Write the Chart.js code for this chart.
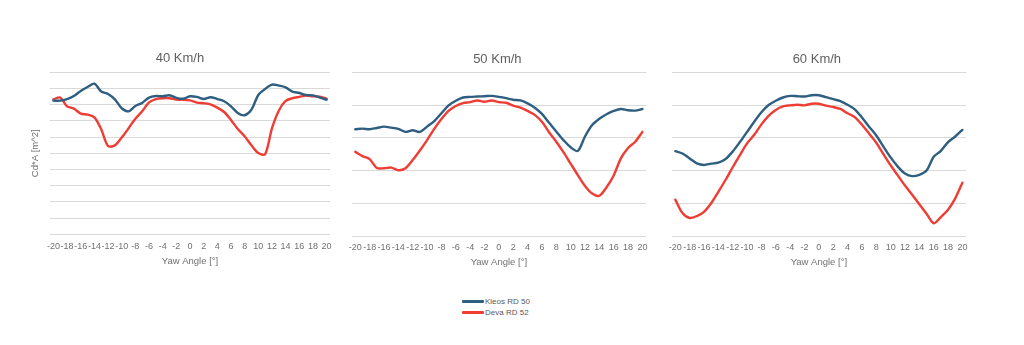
<!DOCTYPE html>
<html>
<head>
<meta charset="utf-8">
<script src="https://cdn.jsdelivr.net/npm/chart.js@4/dist/chart.umd.min.js"></script>
<style>
  html, body { margin: 0; padding: 0; background: #ffffff; }
  body { width: 1024px; height: 345px; position: relative; overflow: hidden; }
  .box { position: absolute; }
  #legend { position: absolute; left: 462px; top: 296px; font-family: "Liberation Sans", Arial, sans-serif; font-size: 8px; color: #595959; }
  #legend .item { height: 11px; display: flex; align-items: center; }
  #legend .sw { width: 22px; height: 3px; margin-right: 1px; border-radius: 1px; }
</style>
</head>
<body>
<div class="box" id="b1" style="left:0px;top:40px;width:340px;height:240px;"><canvas id="c1"></canvas></div>
<div class="box" id="b2" style="left:340px;top:40px;width:316px;height:240px;"><canvas id="c2"></canvas></div>
<div class="box" id="b3" style="left:660px;top:40px;width:316px;height:240px;"><canvas id="c3"></canvas></div>
<div id="legend"></div>
<script>
// ---- data ----
const yawAngles = [-20,-19,-18,-17,-16,-15,-14,-13,-12,-11,-10,-9,-8,-7,-6,-5,-4,-3,-2,-1,0,1,2,3,4,5,6,7,8,9,10,11,12,13,14,15,16,17,18,19,20];
const seriesNames = ["Kleos RD 50", "Deva RD 52"];
const panelTitles = ["40 Km/h", "50 Km/h", "60 Km/h"];
const xAxisTitle = "Yaw Angle [°]";
const yAxisTitle = "Cd*A [m^2]";

const kleos40 = [8.25,8.25,8.35,8.54,8.85,9.09,9.30,8.81,8.66,8.33,7.78,7.59,7.92,8.11,8.44,8.54,8.52,8.58,8.42,8.37,8.52,8.48,8.35,8.46,8.35,8.21,7.90,7.49,7.35,7.70,8.60,8.97,9.24,9.18,9.07,8.81,8.72,8.60,8.58,8.44,8.31];
const deva40  = [8.33,8.44,7.90,7.76,7.45,7.39,7.22,6.48,5.45,5.49,5.97,6.54,7.14,7.59,8.15,8.35,8.40,8.40,8.31,8.31,8.27,8.13,8.09,8.02,7.82,7.55,7.06,6.50,6.05,5.49,5.02,4.94,6.54,7.63,8.23,8.40,8.48,8.56,8.52,8.50,8.37];

const kleos50 = [3.26,3.28,3.26,3.30,3.34,3.31,3.27,3.18,3.23,3.18,3.34,3.51,3.75,3.99,4.13,4.23,4.25,4.26,4.27,4.28,4.25,4.21,4.16,4.14,4.05,3.92,3.73,3.46,3.19,2.93,2.71,2.60,3.04,3.39,3.58,3.72,3.82,3.88,3.84,3.83,3.88];
const deva50  = [2.57,2.44,2.35,2.08,2.07,2.09,2.01,2.07,2.32,2.61,2.93,3.27,3.57,3.82,3.97,4.06,4.09,4.14,4.10,4.14,4.09,4.07,3.98,3.92,3.82,3.70,3.49,3.17,2.88,2.56,2.21,1.86,1.53,1.30,1.23,1.49,1.85,2.37,2.69,2.88,3.18];

const kleos60 = [2.59,2.52,2.37,2.22,2.17,2.21,2.24,2.35,2.58,2.87,3.18,3.49,3.78,4.00,4.13,4.23,4.28,4.27,4.26,4.30,4.30,4.24,4.18,4.12,4.01,3.87,3.62,3.34,3.07,2.73,2.40,2.12,1.91,1.83,1.87,2.00,2.42,2.60,2.87,3.04,3.24];
const deva60  = [1.11,0.70,0.55,0.61,0.74,1.00,1.35,1.71,2.10,2.47,2.83,3.09,3.41,3.67,3.85,3.96,3.99,4.01,3.99,4.04,4.04,3.98,3.94,3.88,3.75,3.63,3.40,3.13,2.85,2.50,2.16,1.85,1.54,1.26,0.97,0.68,0.39,0.58,0.80,1.15,1.63];

const yMax40 = 10, yMax50 = 5, yMax60 = 5;

// ---- styles ----
const BLUE = "#2E5E80";
const RED = "#EE3D34";
const FONT = "'Liberation Sans', Arial, sans-serif";
const TXT = "#707070";
const GRID = "#D9D9D9";

function makeChart(id, title, kleos, deva, yMax, cfg) {
  return new Chart(document.getElementById(id), {
    type: "line",
    data: {
      labels: yawAngles,
      datasets: [
        { label: seriesNames[0], data: kleos, borderColor: BLUE, backgroundColor: BLUE },
        { label: seriesNames[1], data: deva, borderColor: RED, backgroundColor: RED }
      ]
    },
    options: {
      responsive: true,
      maintainAspectRatio: false,
      animation: false,
      devicePixelRatio: 1,
      layout: { padding: { left: cfg.padL, right: 10, top: 0, bottom: 0 } },
      elements: {
        point: { radius: 0, hoverRadius: 0 },
        line: { borderWidth: 2.4, tension: 0.3, borderCapStyle: "round", borderJoinStyle: "round", fill: false }
      },
      plugins: {
        legend: { display: false },
        tooltip: { enabled: false },
        title: {
          display: true, text: title, color: "#5F5F5F",
          font: { family: FONT, size: 13, weight: "normal", lineHeight: 1.2 },
          padding: { top: cfg.titleTop, bottom: cfg.titleBottom }
        }
      },
      scales: {
        x: {
          type: "category",
          offset: true,
          grid: { display: false, drawTicks: false },
          border: { display: false },
          ticks: {
            autoSkip: false, maxRotation: 0, minRotation: 0,
            color: TXT, padding: cfg.tickPad,
            font: { family: FONT, size: 9, lineHeight: 1.2 },
            callback: function (v, i) { return i % 2 === 0 ? String(yawAngles[i]) : ""; }
          },
          title: {
            display: true, text: xAxisTitle, color: TXT,
            font: { family: FONT, size: 9.5, lineHeight: 1.2 },
            padding: { top: 0, bottom: cfg.xTitlePad }
          },
          afterFit: function (s) { s.height = cfg.xH; s.paddingLeft = 0; s.paddingRight = 0; }
        },
        y: {
          min: 0, max: yMax,
          grid: { color: GRID, lineWidth: 1, drawTicks: false },
          border: { display: false },
          ticks: { display: false, stepSize: 1 },
          title: {
            display: cfg.yTitle, text: yAxisTitle, color: TXT,
            font: { family: FONT, size: 9.5, lineHeight: 1.2 },
            padding: { top: 0, bottom: 0 }
          },
          afterFit: function (s) { s.width = cfg.yW; s.paddingTop = 0; s.paddingBottom = 0; }
        }
      }
    }
  });
}

makeChart("c1", panelTitles[0], kleos40, deva40, yMax40,
  { padL: 30, yW: 20, titleTop: 10.5, titleBottom: 6.2, xH: 45.7, tickPad: 7, xTitlePad: 13.3, yTitle: true });
makeChart("c2", panelTitles[1], kleos50, deva50, yMax50,
  { padL: 8.7, yW: 3, titleTop: 11.2, titleBottom: 5.5, xH: 44, tickPad: 6.3, xTitlePad: 11.8, yTitle: false });
makeChart("c3", panelTitles[2], kleos60, deva60, yMax60,
  { padL: 7.7, yW: 4, titleTop: 11.2, titleBottom: 5.5, xH: 44, tickPad: 6.3, xTitlePad: 11.8, yTitle: false });

// legend (HTML text)
const lg = document.getElementById("legend");
[BLUE, RED].forEach(function (c, i) {
  const it = document.createElement("div");
  it.className = "item";
  const sw = document.createElement("span");
  sw.className = "sw"; sw.style.background = c;
  const tx = document.createElement("span");
  tx.textContent = seriesNames[i];
  it.appendChild(sw); it.appendChild(tx);
  lg.appendChild(it);
});
</script>
</body>
</html>
